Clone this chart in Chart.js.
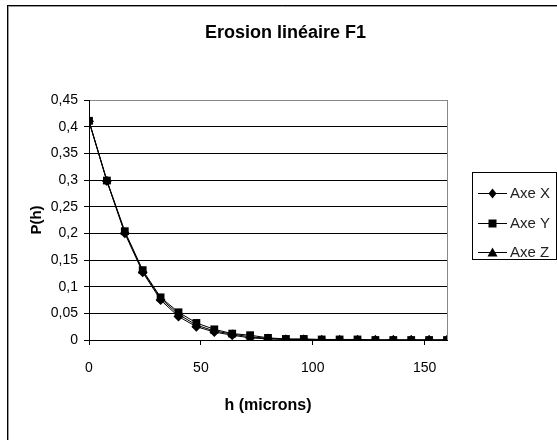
<!DOCTYPE html>
<html lang="fr">
<head>
<meta charset="UTF-8">
<title>Erosion linéaire F1</title>
<script src="https://cdn.jsdelivr.net/npm/chart.js"></script>
<style>
    body { margin: 0; background: #fff; }
    canvas { display: block; }
</style>
</head>
<body>
<canvas id="chart" width="557" height="440"></canvas>
<script>
// h (microns), sampled every 8
const hValues = [0, 8, 16, 24, 32, 40, 48, 56, 64, 72, 80, 88, 96, 104, 112, 120, 128, 136, 144, 152, 160];
const axeX = [0.410, 0.298, 0.200, 0.127, 0.075, 0.044, 0.025, 0.015, 0.009, 0.004, 0.002, 0.001, 0.001, 0, 0, 0, 0, 0, 0, 0, 0];
const axeY = [0.411, 0.299, 0.204, 0.131, 0.080, 0.052, 0.032, 0.020, 0.012, 0.009, 0.004, 0.002, 0.002, 0.001, 0.001, 0.001, 0, 0, 0, 0, 0];
const axeZ = [0.410, 0.298, 0.202, 0.129, 0.078, 0.048, 0.028, 0.017, 0.011, 0.006, 0.003, 0.001, 0.001, 0, 0, 0, 0, 0, 0, 0, 0];
const seriesNames = ['Axe X', 'Axe Y', 'Axe Z'];
const xTicks = [0, 50, 100, 150];

const FONT = 'Arial, "Liberation Sans", sans-serif';

function toPoints(values) {
    return values.map((v, i) => ({ x: hValues[i], y: v }));
}

function commaFmt(v) {
    return String(+v.toFixed(2)).replace('.', ',');
}

// marker drawing used by the legend
function drawMarker(ctx, style, x, y) {
    ctx.beginPath();
    if (style === 'rect') {
        ctx.rect(x - 4, y - 4, 8, 8);
    } else if (style === 'rectRot') {
        ctx.moveTo(x, y - 5);
        ctx.lineTo(x + 4, y);
        ctx.lineTo(x, y + 5);
        ctx.lineTo(x - 4, y);
        ctx.closePath();
    } else {
        ctx.moveTo(x, y - 5);
        ctx.lineTo(x + 5, y + 4);
        ctx.lineTo(x - 5, y + 4);
        ctx.closePath();
    }
    ctx.fill();
}

const frame = {
    id: 'frame',
    beforeDraw(chart) {
        const ctx = chart.ctx;
        ctx.save();
        ctx.fillStyle = '#fff';
        ctx.fillRect(0, 0, chart.width, chart.height);
        ctx.strokeStyle = '#000';
        ctx.lineWidth = 1;
        ctx.beginPath();
        ctx.moveTo(7, 5.5); ctx.lineTo(chart.width, 5.5);
        ctx.moveTo(7.5, 5); ctx.lineTo(7.5, chart.height);
        ctx.stroke();
        ctx.strokeStyle = '#999';
        ctx.beginPath();
        ctx.moveTo(8, 6.5); ctx.lineTo(chart.width, 6.5);
        ctx.moveTo(8.5, 6); ctx.lineTo(8.5, chart.height);
        ctx.stroke();
        ctx.restore();
    },
    afterDatasetsDraw(chart) {
        // plot area right border
        const { ctx, chartArea } = chart;
        ctx.save();
        ctx.strokeStyle = '#888';
        ctx.lineWidth = 1;
        ctx.beginPath();
        ctx.moveTo(Math.round(chartArea.right) + 0.5, chartArea.top);
        ctx.lineTo(Math.round(chartArea.right) + 0.5, chartArea.bottom);
        ctx.stroke();
        ctx.restore();
    },
    afterDraw(chart) {
        // Excel-like legend box with line + marker
        const ctx = chart.ctx;
        ctx.save();
        ctx.strokeStyle = '#000';
        ctx.lineWidth = 1;
        ctx.strokeRect(472.5, 172.5, 84, 87);
        ctx.font = '15px ' + FONT;
        ctx.textBaseline = 'middle';
        const rows = [193, 223, 252];
        chart.data.datasets.forEach((ds, i) => {
            const y = rows[i];
            ctx.strokeStyle = '#000';
            ctx.beginPath();
            ctx.moveTo(478, y + 0.5);
            ctx.lineTo(507, y + 0.5);
            ctx.stroke();
            ctx.fillStyle = '#000';
            drawMarker(ctx, ds.pointStyle, 492.5, y + 0.5);
            ctx.fillStyle = '#222';
            ctx.fillText(ds.label, 510, y + 1);
        });
        ctx.restore();
    }
};

const markerStyles = ['rectRot', 'rect', 'triangle'];
const values = [axeX, axeY, axeZ];

new Chart(document.getElementById('chart'), {
    type: 'line',
    data: {
        datasets: seriesNames.map((name, i) => ({
            label: name,
            data: toPoints(values[i]),
            borderColor: '#000',
            backgroundColor: '#000',
            borderWidth: 1,
            pointStyle: markerStyles[i],
            pointRadius: markerStyles[i] === 'rect' ? 5.5 : 5,
            pointBorderWidth: 0,
            tension: 0,
            order: markerStyles[i] === 'rect' ? 0 : i + 1
        }))
    },
    options: {
        responsive: false,
        animation: false,
        layout: { padding: { left: 14, right: 0, top: 0, bottom: 0 } },
        plugins: {
            legend: { display: false },
            tooltip: { enabled: false },
            title: {
                display: true,
                text: 'Erosion linéaire F1',
                color: '#000',
                font: { family: FONT, size: 18, weight: 'bold' },
                padding: { top: 22, bottom: 56.4 }
            }
        },
        scales: {
            x: {
                type: 'linear',
                min: 0,
                max: 160,
                afterBuildTicks: s => { s.ticks = xTicks.map(v => ({ value: v })); },
                afterFit: s => { s.height = 100; },
                ticks: {
                    color: '#000',
                    padding: 15,
                    maxRotation: 0,
                    font: { family: FONT, size: 14 }
                },
                grid: { drawOnChartArea: false, drawTicks: true, tickLength: 5, color: '#000' },
                border: { color: '#000' },
                title: {
                    display: true,
                    text: 'h (microns)',
                    color: '#000',
                    font: { family: FONT, size: 16, weight: 'bold' },
                    padding: { top: 0, bottom: 25 }
                }
            },
            y: {
                min: 0,
                max: 0.45,
                afterFit: s => { s.width = 75; },
                ticks: {
                    stepSize: 0.05,
                    color: '#000',
                    padding: 6,
                    font: { family: FONT, size: 14 },
                    callback: v => commaFmt(v)
                },
                grid: {
                    color: c => (c.tick && Math.abs(c.tick.value - 0.45) < 1e-9) ? '#888' : '#000',
                    tickColor: '#000',
                    tickLength: 5
                },
                border: { color: '#000' },
                title: {
                    display: true,
                    text: 'P(h)',
                    color: '#000',
                    font: { family: FONT, size: 15, weight: 'bold' },
                    padding: { top: 14, bottom: 0 }
                }
            },
            spacer: {
                type: 'linear',
                position: 'right',
                display: true,
                ticks: { display: false },
                grid: { display: false },
                border: { display: false },
                afterFit: s => { s.width = 110; }
            }
        }
    },
    plugins: [frame]
});
</script>
</body>
</html>
